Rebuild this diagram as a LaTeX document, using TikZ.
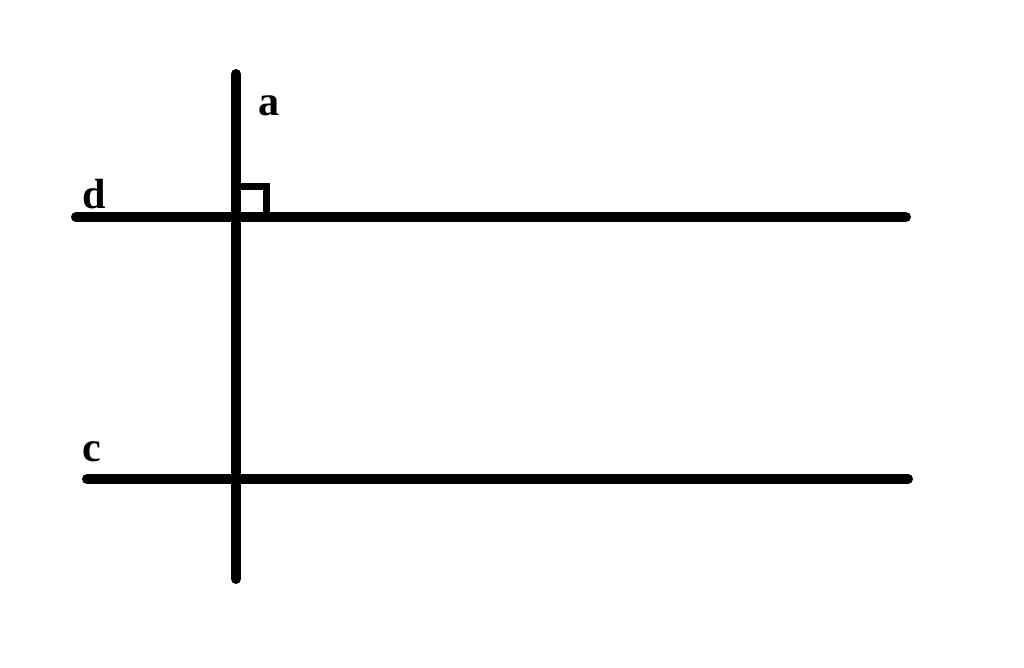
\documentclass[tikz,border=0pt]{standalone}
\usepackage{fontspec}
\setmainfont{Liberation Serif}
\usetikzlibrary{positioning}
\tikzstyle{thickLine} = [line width=10*0.02cm, line cap=round]
\tikzstyle{rightMark} = [line width=7*0.02cm]
\tikzstyle{lineLabel} = [font=\fontsize{24}{24}\selectfont\bfseries, inner sep=0pt]

\begin{document}
\begin{tikzpicture}[x=0.02cm, y=-0.02cm]
  \useasboundingbox (0,0) rectangle (1024,668);
  \coordinate (aTop) at (236,74);
  \coordinate (aBot) at (236,579);
  \coordinate (dL) at (76,217);
  \coordinate (dR) at (906,217);
  \coordinate (cL) at (87,479);
  \coordinate (cR) at (908,479);
  \draw[thickLine] (aTop) -- (aBot);
  \draw[thickLine] (dL) -- (dR);
  \draw[thickLine] (cL) -- (cR);
  \coordinate (markA) at (240,187);
  \coordinate (markB) at (266,187);
  \coordinate (markC) at (266,214);
  \draw[rightMark] (markA) -- (markB) -- (markC);
  \node[lineLabel] (labA) at (269,106) {a};
  \node[lineLabel] (labD) at (94,194) {d};
  \node[lineLabel] (labC) at (92,452) {c};
\end{tikzpicture}
\end{document}
